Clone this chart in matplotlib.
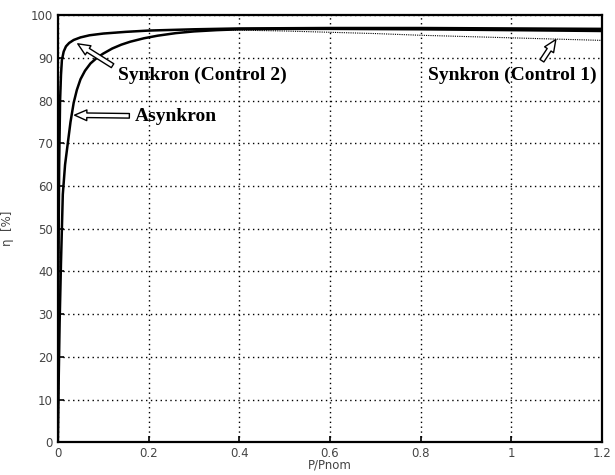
import matplotlib
matplotlib.use("Agg")
import matplotlib.pyplot as plt

# P/Pnom vs efficiency [%]
asyn_x = [0.0, 0.002, 0.004, 0.007, 0.011, 0.016, 0.022, 0.028, 0.035, 0.042, 0.05, 0.06,
          0.072, 0.086, 0.1, 0.12, 0.14, 0.16, 0.19, 0.22, 0.26, 0.3, 0.35, 0.4, 0.5,
          0.6, 0.8, 1.0, 1.2]
asyn_y = [0.0, 15.0, 28.0, 42.0, 58.0, 65.0, 70.0, 75.0, 79.5, 82.5, 85.0, 87.0,
          88.7, 90.0, 91.0, 92.2, 93.1, 93.8, 94.6, 95.2, 95.8, 96.2, 96.5, 96.7, 96.8,
          96.8, 96.7, 96.5, 96.3]

syn2_x = [0.0, 0.001, 0.002, 0.003, 0.005, 0.007, 0.009, 0.013, 0.018, 0.025, 0.035, 0.05,
          0.07, 0.1, 0.15, 0.2, 0.3, 0.4, 0.6, 0.8, 1.0, 1.2]
syn2_y = [0.0, 30.0, 50.0, 65.0, 80.0, 86.0, 89.5, 91.5, 92.7, 93.5, 94.2, 94.8,
          95.3, 95.7, 96.1, 96.4, 96.7, 96.9, 97.0, 97.0, 96.9, 96.8]

syn1_x = [0.0, 0.001, 0.002, 0.003, 0.005, 0.007, 0.009, 0.013, 0.018, 0.025, 0.035, 0.05,
          0.07, 0.1, 0.15, 0.2, 0.3, 0.4, 0.5, 0.6, 0.7, 0.8, 0.9, 1.0, 1.1, 1.2]
syn1_y = [0.0, 30.0, 50.0, 65.0, 80.0, 86.0, 89.5, 91.5, 92.7, 93.5, 94.2, 94.8,
          95.3, 95.7, 96.1, 96.4, 96.6, 96.5, 96.3, 96.0, 95.7, 95.3, 95.0, 94.7, 94.4, 94.1]

xticks = [0, 0.2, 0.4, 0.6, 0.8, 1, 1.2]
xtick_labels = ["0", "0.2", "0.4", "0.6", "0.8", "1", "1.2"]
yticks = list(range(0, 101, 10))

fig = plt.figure(figsize=(6.15, 4.75), dpi=100)
ax = fig.add_axes([0.094, 0.069, 0.885, 0.899])

ax.plot(syn1_x, syn1_y, color="black", linewidth=0.8, linestyle=(0, (1, 1)))
ax.plot(asyn_x, asyn_y, color="black", linewidth=1.8)
ax.plot(syn2_x, syn2_y, color="black", linewidth=1.8)

ax.set_xlim(0, 1.2)
ax.set_ylim(0, 100)
ax.set_xticks(xticks)
ax.set_xticklabels(xtick_labels)
ax.set_yticks(yticks)
ax.grid(True, color="black", linestyle=(0, (1, 2.5)), linewidth=1.0)
ax.tick_params(direction="in", length=4, labelsize=8.5, labelcolor="#444444", width=1.2)
for s in ax.spines.values():
    s.set_linewidth(1.6)

ax.set_xlabel("P/Pnom", fontsize=8.5, color="#444444", labelpad=-1)
ax.set_ylabel("η  [%]", fontsize=8.5, color="#444444", labelpad=12)

serif = dict(family="Liberation Serif", fontweight="bold", fontsize=14)
arrow = dict(arrowstyle="simple,head_width=0.7,head_length=0.8,tail_width=0.3",
             facecolor="white", edgecolor="black", linewidth=1.0, mutation_scale=11,
             shrinkA=2, shrinkB=0)

ax.annotate("Synkron (Control 2)", xy=(0.044, 93.3), xytext=(0.132, 86),
            va="center", ha="left", arrowprops=dict(arrow, relpos=(0.0, 0.85)), **serif)
ax.annotate("Asynkron", xy=(0.037, 76.6), xytext=(0.17, 76.3),
            va="center", ha="left", arrowprops=arrow, **serif)
ax.annotate("Synkron (Control 1)", xy=(1.098, 94.3), xytext=(0.817, 86),
            va="center", ha="left", **serif)
ax.annotate("", xy=(1.098, 94.3), xytext=(1.064, 88.8), arrowprops=arrow)

fig.savefig("out.png", dpi=100)
